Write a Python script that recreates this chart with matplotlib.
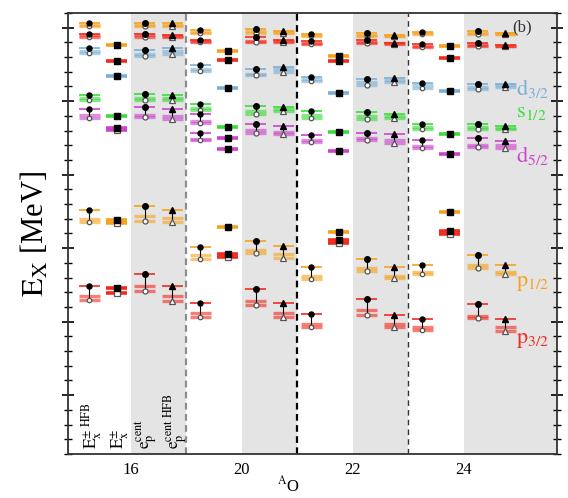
import matplotlib
matplotlib.use("Agg")
import matplotlib.pyplot as plt
from matplotlib.ticker import MultipleLocator

plt.rcParams['font.family'] = ['Liberation Serif', 'DejaVu Serif']
plt.rcParams['mathtext.fontset'] = 'stix'

# ---------------- data ----------------
isotopes = ['16', '20', '22', '24']
methods = [r'$\mathrm{E}_\mathrm{x}^{\pm\ \mathrm{HFB}}$', r'$\mathrm{E}_\mathrm{x}^{\pm}$',
           r'$\mathrm{e}_\mathrm{p}^{\mathrm{cent}}$', r'$\mathrm{e}_\mathrm{p}^{\mathrm{cent\ HFB}}$']
# each entry: (upper value, lower band values...) for isotope-major / method-minor order
top_o = [(25.35, 25.21, 25.09), (23.83,), (25.35, 25.21, 25.12), (25.33, 25.21, 25.14),
         (24.87, 24.71, 24.65), (23.44,), (24.92, 24.75, 24.65), (24.80, 24.73, 24.67),
         (24.58, 24.51, 24.44), (23.08,), (24.65, 24.51, 24.44), (24.51, 24.46, 24.41),
         (24.69, 24.62, 24.55), (23.78,), (24.80, 24.67, 24.60), (24.65, 24.60, 24.54)]
top_r = [(24.58, 24.51, 24.35), (22.72,), (24.58, 24.51, 24.39), (24.51, 24.41, 24.36),
         (24.17, 24.08, 24.02), (22.78,), (24.35, 24.12, 24.05), (24.19, 24.10, 24.03),
         (24.12, 23.99, 23.92), (22.74,), (24.19, 24.01, 23.94), (23.99, 23.95, 23.90),
         (23.87, 23.76, 23.72), (22.95,), (23.97, 23.83, 23.78), (23.83, 23.78, 23.73)]
d32 = [(23.62, 23.41, 23.27), (21.68,), (23.49, 23.24, 23.07), (23.60, 23.41, 23.24),
       (22.47, 22.22, 22.04), (20.88,), (22.20, 21.86, 21.75), (22.31, 22.19, 21.98),
       (21.63, 21.51, 21.34), (20.59,), (21.49, 21.29, 21.13), (21.59, 21.44, 21.29),
       (21.25, 21.07, 20.91), (20.66,), (21.18, 20.96, 20.84), (21.18, 21.07, 20.96)]
s12 = [(20.45, 20.25, 20.08), (18.98,), (20.47, 20.22, 20.05), (20.43, 20.25, 20.08),
       (19.80, 19.54, 19.37), (18.23,), (19.66, 19.33, 19.14), (19.59, 19.47, 19.31),
       (19.30, 19.03, 18.86), (17.89,), (19.25, 18.99, 18.82), (19.14, 18.99, 18.86),
       (18.42, 18.25, 18.08), (17.79,), (18.46, 18.25, 18.08), (18.28, 18.21, 18.08)]
d52 = [(19.46, 19.03, 18.87), (18.21, 18.04), (19.59, 19.05, 18.91), (19.46, 18.99, 18.82),
       (19.14, 18.64, 18.50), (17.47,), (18.42, 18.01, 17.83), (18.28, 17.91, 17.74),
       (17.69, 17.36, 17.19), (16.58,), (17.87, 17.50, 17.33), (17.74, 17.33, 17.16),
       (17.33, 16.96, 16.79), (16.38,), (17.47, 17.02, 16.85), (17.26, 16.99, 16.82)]
d52b = [None, None, None, None,
        (17.81, 17.45, 17.33), (16.72,), None, None,
        None, None, None, None,
        None, None, None, None]
p12 = [(12.62, 12.01, 11.78), (11.92, 11.69), (12.85, 12.17, 11.85), (12.62, 12.05, 11.78),
       (10.11, 9.54, 9.29), (11.44,), (10.52, 9.91, 9.67), (10.15, 9.59, 9.36),
       (8.70, 8.09, 7.91), (11.13,), (9.29, 8.66, 8.43), (8.72, 8.09, 7.94),
       (8.89, 8.38, 8.27), (12.46,), (9.52, 8.84, 8.68), (8.89, 8.38, 8.23)]
p32 = [(7.43, 6.73, 6.46), (7.26, 6.96), (8.21, 7.41, 7.07), (7.43, 6.73, 6.41),
       (6.24, 5.56, 5.33), (9.59, 9.40), (7.19, 6.41, 6.12), (6.24, 5.60, 5.33),
       (5.49, 4.83, 4.61), (10.58, 10.35), (6.51, 5.78, 5.44), (5.46, 4.83, 4.61),
       (5.19, 4.61, 4.42), (11.15, 10.99), (6.17, 5.40, 5.22), (5.19, 4.61, 4.38)]

orange, red, blue, green, magenta = '#F6A21E', '#F42A1E', '#7BAFD4', '#3BDB3B', '#CC44CC'
series = [(top_o, orange), (top_r, red), (d32, blue), (s12, green), (d52, magenta),
          (d52b, magenta), (p12, orange), (p32, red)]
orbital_labels = [(r'$\mathrm{d}_{3/2}$', 20.86, blue), (r'$\mathrm{s}_{1/2}$', 19.23, green),
                  (r'$\mathrm{d}_{5/2}$', 16.31, magenta), (r'$\mathrm{p}_{1/2}$', 7.62, orange),
                  (r'$\mathrm{p}_{3/2}$', 3.74, red)]

# ---------------- figure ----------------
fig = plt.figure(figsize=(5.68, 4.98), dpi=100)
ax = fig.add_axes([0.1197, 0.0884, 0.8609, 0.8855])
ax.set_xlim(-0.13, 8.68)
ax.set_ylim(-4, 26)

for g0, g1 in [(1, 2), (3, 4), (5, 6), (7, 8.68)]:
    ax.axvspan(g0, g1, color='#e4e4e4', zorder=0, lw=0)
ax.axvline(2, color='#8c8c8c', lw=1.6, ls=(0, (3, 2)), zorder=1)
ax.axvline(4, color='k', lw=1.6, ls=(0, (3, 2)), zorder=1)
ax.axvline(6, color='#333333', lw=1.0, ls=(0, (4, 3)), zorder=1)

hw = 0.19
offs = [0.25, 0.75, 1.25, 1.75]
mk_fill = ['o', 's', 'o', '^']
mk_ms = [3.6, 4.6, 4.0, 4.4]
for data, col in series:
    for idx, entry in enumerate(data):
        if entry is None:
            continue
        iso, m = divmod(idx, 4)
        xc = 2 * iso + offs[m]
        if m == 1:
            for j, v in enumerate(entry):
                ax.hlines(v, xc - hw, xc + hw, color=col, lw=2.6, zorder=3)
            if len(entry) > 1:
                ax.vlines(xc, entry[-1], entry[0], color='k', lw=0.8, zorder=4)
                ax.plot(xc, entry[-1], marker='s', ms=4.0, mfc='white', mec='#555555', mew=0.9, zorder=5)
            ax.plot(xc, entry[0], marker='s', ms=4.6, color='k', zorder=6)
        else:
            up, band = entry[0], entry[1:]
            ax.hlines(up, xc - hw, xc + hw, color=col, lw=1.2, zorder=3)
            for v in band:
                ax.hlines(v, xc - hw, xc + hw, color=col, lw=2.4, alpha=0.6, zorder=2)
            ax.vlines(xc, band[-1], up, color='k', lw=0.8, zorder=4)
            ax.plot(xc, band[-1], marker=mk_fill[m], ms=mk_ms[m] - 0.4, mfc='white',
                    mec='#555555', mew=0.9, zorder=5)
            ax.plot(xc, up, marker=mk_fill[m], ms=mk_ms[m], color='k', zorder=6)

for txt, yv, col in orbital_labels:
    ax.text(7.95, yv, txt, color=col, fontsize=16, va='center', ha='left')
ax.text(7.87, 25.0, '(b)', fontsize=12, va='center', ha='left', color='#333333')

for m, lab in enumerate(methods):
    ax.text(offs[m] + 0.05, -3.65, lab, rotation=90, fontsize=12.5, ha='center', va='bottom')

ax.set_xticks([1, 3, 5, 7])
ax.set_xticklabels(isotopes, fontsize=12)
ax.tick_params(axis='x', length=0, pad=6)
ax.yaxis.set_major_locator(MultipleLocator(5))
ax.yaxis.set_minor_locator(MultipleLocator(1))
ax.tick_params(axis='y', which='major', direction='inout', length=9, width=1.2,
               left=True, right=True, labelleft=False)
ax.tick_params(axis='y', which='minor', direction='inout', length=6, width=1.0,
               left=True, right=True)
for s in ax.spines.values():
    s.set_linewidth(1.3)
    s.set_color('#333333')

fig.text(0.508, 0.026, r'$^{\mathrm{A}}$O', fontsize=12, ha='center', va='center')
ax.set_ylabel(r'$\mathrm{E}_\mathrm{X}$ [MeV]', fontsize=22, labelpad=6)

fig.savefig('out.png', dpi=100)
